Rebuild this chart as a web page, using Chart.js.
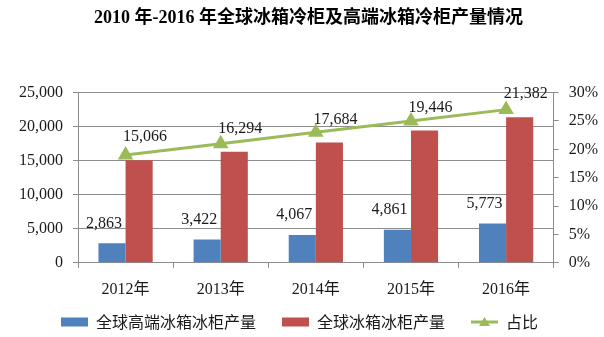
<!DOCTYPE html>
<html>
<head>
<meta charset="utf-8">
<script src="https://cdn.jsdelivr.net/npm/chart.js@4.4.0/dist/chart.umd.min.js"></script>
<style>
  html, body { margin: 0; padding: 0; background: #fff; }
</style>
</head>
<body>
<canvas id="myChart" width="604" height="337"></canvas>
<script>
var years = ['2012年', '2013年', '2014年', '2015年', '2016年'];
var highEndOutput = [2863, 3422, 4067, 4861, 5773];
var globalOutput = [15066, 16294, 17684, 19446, 21382];
var highEndShare = [19.0, 21.0, 23.0, 25.0, 27.0];

var BLUE = '#4F81BD', RED = '#C0504D', GREEN = '#9BBB59', GRID = '#8c8c8c';
var serif = '"Liberation Serif", "Noto Sans CJK SC", serif';

// value labels sit above each bar, nudged sideways like the original sheet
var labelShift = [[-8, -20], [6, -23]];

var barValues = {
    id: 'barValues',
    afterDatasetsDraw: function (chart) {
        var ctx = chart.ctx;
        ctx.save();
        ctx.font = '16px ' + serif;
        ctx.fillStyle = '#1a1a1a';
        ctx.textAlign = 'center';
        ctx.textBaseline = 'middle';
        [0, 1].forEach(function (d) {
            chart.getDatasetMeta(d).data.forEach(function (bar, i) {
                var v = chart.data.datasets[d].data[i];
                ctx.fillText(v.toLocaleString('en-US'), bar.x + labelShift[d][0], bar.y + labelShift[d][1]);
            });
        });
        ctx.restore();
    }
};

// pull the legend row up closer to the axis labels, a bit to the left
var legendLift = {
    id: 'legendLift',
    afterLayout: function (chart) {
        var lg = chart.legend;
        lg.top -= 23;
        lg.bottom -= 23;
        lg.left -= 9;
        lg.right -= 9;
    }
};

// legend entry for the line: short stroke with a triangle marker
var lineLegend = {
    id: 'lineLegend',
    afterDraw: function (chart) {
        var lg = chart.legend;
        var box = lg.legendHitBoxes[2];
        if (!box) return;
        var bw = lg.options.labels.boxWidth;
        var cy = box.top + box.height / 2;
        var cx = box.left + bw / 2;
        var ctx = chart.ctx;
        ctx.save();
        ctx.strokeStyle = GREEN;
        ctx.fillStyle = GREEN;
        ctx.lineWidth = 3;
        ctx.beginPath();
        ctx.moveTo(box.left, cy);
        ctx.lineTo(box.left + bw, cy);
        ctx.stroke();
        ctx.beginPath();
        ctx.moveTo(cx, cy - 5);
        ctx.lineTo(cx + 5.5, cy + 4);
        ctx.lineTo(cx - 5.5, cy + 4);
        ctx.closePath();
        ctx.fill();
        ctx.restore();
    }
};

var ctx = document.getElementById('myChart');
var myChart = new Chart(ctx, {
    type: 'bar',
    data: {
        labels: years,
        datasets: [
            {
                label: '全球高端冰箱冰柜产量',
                data: highEndOutput,
                backgroundColor: BLUE,
                yAxisID: 'y',
                order: 1
            },
            {
                label: '全球冰箱冰柜产量',
                data: globalOutput,
                backgroundColor: RED,
                yAxisID: 'y',
                order: 1
            },
            {
                type: 'line',
                label: '占比',
                data: highEndShare,
                borderColor: GREEN,
                backgroundColor: GREEN,
                borderWidth: 3,
                pointStyle: 'triangle',
                pointRadius: 6,
                pointBackgroundColor: GREEN,
                pointBorderColor: GREEN,
                tension: 0,
                yAxisID: 'y1',
                order: 0
            }
        ]
    },
    options: {
        responsive: false,
        animation: false,
        layout: { padding: { left: 9, right: -4, bottom: -26 } },
        datasets: {
            bar: { categoryPercentage: 0.57, barPercentage: 1 }
        },
        scales: {
            x: {
                offset: true,
                grid: { offset: true, drawOnChartArea: false, color: GRID, tickLength: 5 },
                border: { color: GRID },
                ticks: { font: { family: serif, size: 16 }, color: '#1a1a1a', padding: 12 }
            },
            y: {
                position: 'left',
                min: 0,
                max: 25000,
                ticks: {
                    stepSize: 5000,
                    font: { family: serif, size: 16 },
                    color: '#1a1a1a',
                    padding: 10,
                    callback: function (v) { return v.toLocaleString('en-US'); }
                },
                grid: { color: GRID, tickLength: 5 },
                border: { color: GRID }
            },
            y1: {
                position: 'right',
                min: 0,
                max: 30,
                ticks: {
                    stepSize: 5,
                    font: { family: serif, size: 16 },
                    color: '#1a1a1a',
                    padding: 10,
                    callback: function (v) { return v + '%'; }
                },
                grid: { drawOnChartArea: false, color: GRID, tickLength: 5 },
                border: { color: GRID }
            }
        },
        plugins: {
            title: {
                display: true,
                text: '2010 年-2016 年全球冰箱冷柜及高端冰箱冷柜产量情况',
                font: { family: serif, size: 18, weight: 'bold' },
                color: '#000',
                padding: { top: 8, bottom: 63 }
            },
            legend: {
                position: 'bottom',
                labels: {
                    boxWidth: 27,
                    boxHeight: 9,
                    padding: 26,
                    font: { family: '"Noto Sans CJK SC", sans-serif', size: 16 },
                    color: '#1a1a1a',
                    generateLabels: function (chart) {
                        var items = Chart.defaults.plugins.legend.labels.generateLabels(chart);
                        items.sort(function (a, b) { return a.datasetIndex - b.datasetIndex; });
                        items[2].fillStyle = 'rgba(0,0,0,0)';
                        items[2].strokeStyle = 'rgba(0,0,0,0)';
                        items[2].lineWidth = 0;
                        return items;
                    }
                }
            },
            tooltip: { enabled: false }
        }
    },
    plugins: [barValues, legendLift, lineLegend]
});
</script>
</body>
</html>
